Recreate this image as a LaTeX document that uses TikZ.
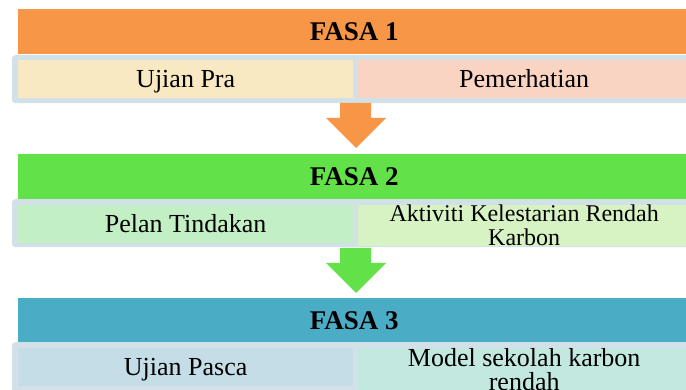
\documentclass[tikz,border=0pt]{standalone}
\usepackage{fontspec}
\setmainfont{Liberation Serif}
\definecolor{hdrA}{HTML}{F79646}
\definecolor{hdrB}{HTML}{62E248}
\definecolor{hdrC}{HTML}{4BACC6}
\definecolor{frameC}{HTML}{D2E0E7}
\definecolor{cellA1}{HTML}{F8E9C3}
\definecolor{cellA2}{HTML}{FAD4C3}
\definecolor{cellB1}{HTML}{C3EFC5}
\definecolor{cellB2}{HTML}{D7F3C4}
\definecolor{cellC1}{HTML}{C4DDE6}
\definecolor{cellC2}{HTML}{C2E8E0}
\tikzset{
  hdr/.style={anchor=north west, minimum width=672pt, minimum height=45pt, inner sep=0pt, text height=17.9pt, text depth=0pt, font=\fontsize{27}{27}\selectfont\bfseries},
  frm/.style={anchor=north west, fill=frameC, rounded corners=3pt, minimum width=680pt, minimum height=48pt, inner sep=0pt},
  cell/.style={anchor=north west, minimum height=38pt, inner sep=0pt, font=\fontsize{26}{24}\selectfont},
  one/.style={text height=17.2pt, text depth=0pt},
  two/.style={align=center},
}
\begin{document}
\begin{tikzpicture}[x=1pt,y=1pt]
\useasboundingbox (0,0) rectangle (686,-390);
% phase 1
\node[hdr, fill=hdrA] (h1) at (18,-9) {FASA 1};
\node[frm] (f1) at (12,-55) {};
\node[cell, one, fill=cellA1, minimum width=335pt] (a1) at (18,-60) {Ujian Pra};
\node[cell, one, fill=cellA2, minimum width=332pt] (a2) at (358,-60) {Pemerhatian};
% phase 2
\node[hdr, fill=hdrB] (h2) at (18,-154) {FASA 2};
\node[frm] (f2) at (12,-199) {};
\node[cell, one, fill=cellB1, minimum width=335pt] (b1) at (18,-205) {Pelan Tindakan};
\node[cell, two, fill=cellB2, minimum width=332pt, font=\fontsize{24}{24}\selectfont] (b2) at (358,-205) {Aktiviti Kelestarian Rendah\\Karbon};
% phase 3
\node[hdr, fill=hdrC] (h3) at (18,-298) {FASA 3};
\node[frm, minimum height=52pt] (f3) at (12,-342) {};
\node[cell, one, fill=cellC1, minimum width=335pt] (c1) at (18,-348) {Ujian Pasca};
\node[cell, two, fill=cellC2, minimum width=332pt] (c2) at (358,-348) {Model sekolah karbon\\rendah};
% arrows
\fill[hdrA] (340,-103) -- (371,-103) -- (371,-118) -- (386,-118) -- (356,-148) -- (326,-118) -- (340,-118) -- cycle;
\fill[hdrB] (340,-248) -- (371,-248) -- (371,-263) -- (386,-263) -- (356,-293) -- (326,-263) -- (340,-263) -- cycle;
\end{tikzpicture}
\end{document}
